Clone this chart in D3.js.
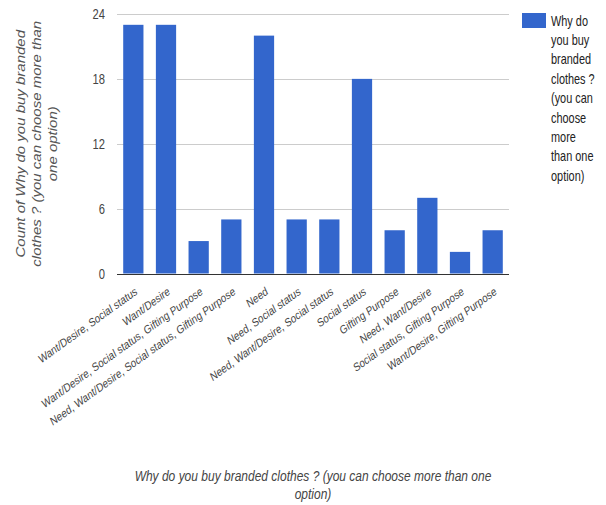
<!DOCTYPE html>
<html>
<head>
<meta charset="utf-8">
<script src="https://cdn.jsdelivr.net/npm/d3@7/dist/d3.min.js"></script>
<style>
  html, body { margin: 0; padding: 0; background: #fff; }
  svg { display: block; }
  text { font-family: "Liberation Sans", Arial, sans-serif; }
</style>
</head>
<body>
<svg id="chart" width="606" height="505"></svg>
<script>
// Answers to "Why do you buy branded clothes ?" and how often each was chosen
const categories = [
  "Want/Desire, Social status",
  "Want/Desire",
  "Want/Desire, Social status, Gifting Purpose",
  "Need, Want/Desire, Social status, Gifting Purpose",
  "Need",
  "Need, Social status",
  "Need, Want/Desire, Social status",
  "Social status",
  "Gifting Purpose",
  "Need, Want/Desire",
  "Social status, Gifting Purpose",
  "Want/Desire, Gifting Purpose"
];
const counts = [23, 23, 3, 5, 22, 5, 5, 18, 4, 7, 2, 4];
const yTicks = [0, 6, 12, 18, 24];
const legendLines = ["Why do", "you buy", "branded", "clothes ?", "(you can", "choose", "more", "than one", "option)"];
const yTitleLines = ["Count of Why do you buy branded", "clothes ? (you can choose more than", "one option)"];
const xTitleLines = ["Why do you buy branded clothes ? (you can choose more than one", "option)"];

// Text is drawn slightly condensed horizontally
const SQ = 0.8;

const svg = d3.select("#chart");
const plot = { left: 117, right: 509, top: 14, bottom: 273.5 };

const x = d3.scaleBand()
  .domain(categories)
  .range([plot.left, plot.right])
  .paddingInner(0.38)
  .paddingOuter(0.19);

const y = d3.scaleLinear()
  .domain([0, 24])
  .range([plot.bottom, plot.top]);

// Horizontal gridlines
svg.append("g")
  .selectAll("line")
  .data(yTicks.filter(d => d !== 0))
  .join("line")
  .attr("x1", plot.left).attr("x2", plot.right)
  .attr("y1", d => Math.round(y(d)) + 0.5).attr("y2", d => Math.round(y(d)) + 0.5)
  .attr("stroke", "#cccccc").attr("stroke-width", 1);

// Y tick labels
svg.append("g")
  .selectAll("text")
  .data(yTicks)
  .join("text")
  .attr("transform", d => `translate(105,${y(d)}) scale(${SQ},1)`)
  .attr("dy", "0.36em")
  .attr("text-anchor", "end")
  .attr("font-size", 14)
  .attr("fill", "#444")
  .text(d => d);

// Bars
svg.append("g")
  .selectAll("rect")
  .data(counts)
  .join("rect")
  .attr("x", (d, i) => x(categories[i]))
  .attr("width", x.bandwidth())
  .attr("y", d => y(d))
  .attr("height", d => y(0) - y(d))
  .attr("fill", "#3366cc");

// Baseline
svg.append("line")
  .attr("x1", plot.left).attr("x2", plot.right)
  .attr("y1", Math.round(y(0)) + 0.5).attr("y2", Math.round(y(0)) + 0.5)
  .attr("stroke", "#333").attr("stroke-width", 1);

// Slanted category labels
svg.append("g")
  .selectAll("text")
  .data(categories)
  .join("text")
  .attr("transform", d => `translate(${x(d) + x.bandwidth() / 2 + 3},290) scale(${SQ},1) rotate(-30)`)
  .attr("dy", "0.35em")
  .attr("text-anchor", "end")
  .attr("font-size", 12)
  .attr("fill", "#444")
  .text(d => d);

// Y axis title
const yCenter = (plot.top + plot.bottom) / 2;
svg.append("g")
  .selectAll("text")
  .data(yTitleLines)
  .join("text")
  .attr("transform", (d, i) => `translate(${21 + i * 16},${yCenter}) scale(${SQ},1) rotate(-90)`)
  .attr("dy", "0.35em")
  .attr("text-anchor", "middle")
  .attr("font-size", 15)
  .attr("font-style", "italic")
  .attr("fill", "#555")
  .text(d => d);

// X axis title
const xCenter = (plot.left + plot.right) / 2;
svg.append("g")
  .selectAll("text")
  .data(xTitleLines)
  .join("text")
  .attr("transform", (d, i) => `translate(${xCenter},${476 + i * 18}) scale(${SQ},1)`)
  .attr("dy", "0.35em")
  .attr("text-anchor", "middle")
  .attr("font-size", 15)
  .attr("font-style", "italic")
  .attr("fill", "#444")
  .text(d => d);

// Legend
const legend = svg.append("g");
legend.append("rect")
  .attr("x", 522).attr("y", 13)
  .attr("width", 24).attr("height", 15)
  .attr("fill", "#3366cc");
legend.selectAll("text")
  .data(legendLines)
  .join("text")
  .attr("transform", (d, i) => `translate(551,${20.5 + i * 19.4}) scale(0.78,1)`)
  .attr("dy", "0.36em")
  .attr("font-size", 14)
  .attr("fill", "#222")
  .text(d => d);
</script>
</body>
</html>
